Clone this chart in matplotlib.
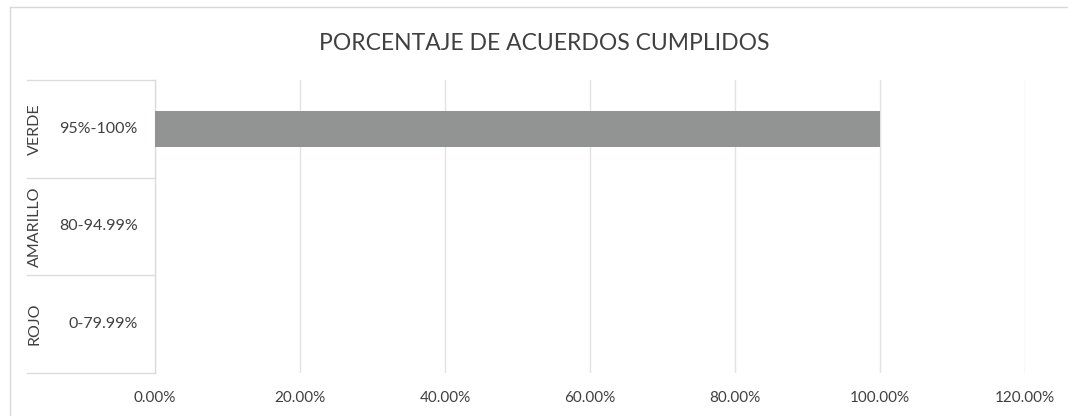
import matplotlib
matplotlib.use("Agg")
import matplotlib.pyplot as plt
from matplotlib.lines import Line2D
from matplotlib.ticker import FuncFormatter

plt.rcParams['font.family'] = ['Lato', 'DejaVu Sans']

title = "PORCENTAJE DE ACUERDOS CUMPLIDOS"
groups = ["VERDE", "AMARILLO", "ROJO"]
ranges = ["95%-100%", "80-94.99%", "0-79.99%"]
values = [1.00, 0.0, 0.0]
xticks = [0.0, 0.2, 0.4, 0.6, 0.8, 1.0, 1.2]

W, H = 1068, 416
fig = plt.figure(figsize=(W / 100, H / 100), dpi=100)
fig.patch.set_facecolor('white')
ax = fig.add_axes([155 / W, 1 - 373 / H, (1025 - 155) / W, (373 - 80) / H])

n = len(groups)
ypos = [n - 0.5 - i for i in range(n)]
ax.barh(ypos, values, height=0.37, color='#929493', zorder=3)
ax.set_xlim(xticks[0], xticks[-1])
ax.set_ylim(0, n)
ax.set_xticks(xticks)
ax.xaxis.set_major_formatter(FuncFormatter(lambda v, p: f"{v * 100:.2f}%"))
ax.tick_params(axis='x', length=0, pad=13, labelsize=11, labelcolor='#404040')
ax.set_yticks([])
ax.grid(axis='x', color='#e3e3e3', linewidth=1.0, zorder=0)
for s in ['top', 'right', 'bottom']:
    ax.spines[s].set_visible(False)
ax.spines['left'].set_color('#dcdcdc')
ax.spines['left'].set_linewidth(1.0)

tr = ax.get_yaxis_transform()
x_left = (27 - 155) / (1025 - 155)
for yb in range(n + 1):
    ax.add_line(Line2D([x_left, 0], [yb, yb], transform=tr, color='#dcdcdc',
                       linewidth=1.0, clip_on=False))
for i in range(n):
    ax.text((138 - 155) / (1025 - 155), ypos[i], ranges[i], transform=tr,
            ha='right', va='center', fontsize=11.5, color='#404040')
    ax.text((35 - 155) / (1025 - 155), ypos[i], groups[i], transform=tr,
            ha='center', va='center', rotation=90, fontsize=11.5, color='#404040')

fig.text(544 / W, 1 - 44 / H, title, ha='center', va='center',
         fontsize=16.5, color='#404040')

# chart area border
fig.add_artist(Line2D([10 / W, 10 / W], [0, 1 - 7 / H], transform=fig.transFigure,
                      color='#d9d9d9', linewidth=1.0))
fig.add_artist(Line2D([10 / W, 1], [1 - 7 / H, 1 - 7 / H], transform=fig.transFigure,
                      color='#d9d9d9', linewidth=1.0))

fig.savefig('out.png', dpi=100, facecolor='white')
